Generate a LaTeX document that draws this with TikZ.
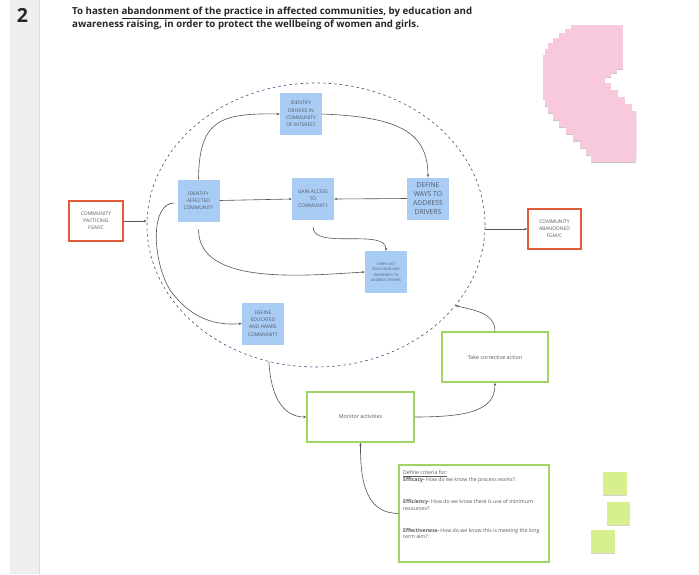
\documentclass[tikz,border=0pt]{standalone}
\usepackage{fontspec}
\setmainfont{Open Sans}
\usetikzlibrary{shapes.geometric,arrows.meta,calc,shadows}

\definecolor{stripgray}{HTML}{EFEFEF}
\definecolor{stripline}{HTML}{DCDCDC}
\definecolor{noteblue}{HTML}{A9CCF4}
\definecolor{notetext}{HTML}{4F5B6B}
\definecolor{framered}{HTML}{E05A3C}
\definecolor{framegreen}{HTML}{9FD462}
\definecolor{notepink}{HTML}{F8C8DC}
\definecolor{notelime}{HTML}{D8EF90}
\definecolor{wire}{HTML}{555555}
\definecolor{ringcol}{HTML}{4C4C80}
\definecolor{bodytext}{HTML}{5A5A5A}

\tikzset{
  bluenote/.style={fill=noteblue, draw=none, minimum width=42pt, minimum height=42pt,
    inner sep=1pt, align=center, text=notetext, font=\fontsize{4.9}{7.2}\selectfont,
    drop shadow={shadow xshift=0pt, shadow yshift=-1.6pt, shadow scale=0.94,
      fill=black, opacity=.28}},
  redframe/.style={draw=framered, line width=1.5pt, fill=white, minimum width=54pt,
    minimum height=40pt, align=center, text=bodytext, font=\fontsize{5}{7.2}\selectfont},
  greenframe/.style={draw=framegreen, line width=1.5pt, fill=white, align=center,
    text=bodytext, font=\fontsize{5.4}{6.5}\selectfont},
  wireline/.style={draw=wire, line width=0.6pt, -{Stealth[length=3pt,width=2.4pt]}},
  pinknote/.style={fill=notepink, draw=none,
    drop shadow={shadow xshift=0pt, shadow yshift=-1.2pt, fill=black, opacity=.22}},
  limenote/.style={fill=notelime, draw=none,
    drop shadow={shadow xshift=0pt, shadow yshift=-1.2pt, fill=black, opacity=.18}}
}

\begin{document}
\begin{tikzpicture}[x=1pt,y=-1pt]
  \useasboundingbox (0,0) rectangle (699,574);
  \fill[white] (0,0) rectangle (699,574);

  % section number strip
  \fill[stripgray] (10,0) rectangle (40,574);
  \draw[stripline, line width=0.8pt] (39.5,0) -- (39.5,574);
  \node[font=\bfseries\fontsize{19.5}{20}\selectfont, text=black!85] (num) at (22.5,15.5) {2};

  % heading
  \node[anchor=north west, inner sep=0pt, align=left, text=black!85,
        font=\bfseries\fontsize{9.7}{13}\selectfont] (heading) at (72,7)
    {To hasten \underline{abandonment of the practice in affected communities}, by education and\\
     awareness raising, in order to protect the wellbeing of women and girls.};

  % pink note stack
  \begin{scope}
    \clip (520,15) rectangle (636,170);
    \foreach \px/\py in {571/25,565/29,559/33,553/38,548/43,545/49,543/55,545/62,
                         548/69,553/76,559/83,566/90,573/97,580/104,586/111,591/118}
      \fill[pinknote] (\px,\py) rectangle ++(52,44);
  \end{scope}

  % lime notes
  \fill[limenote] (603,472) rectangle (627,495);
  \fill[limenote] (607,502) rectangle (630,525);
  \fill[limenote] (591,530) rectangle (615,553);

  % dashed boundary of the process
  \node[ellipse, draw=ringcol, line width=0.6pt, dash pattern=on 2.6pt off 3pt,
        minimum width=338pt, minimum height=284pt, inner sep=0pt] (ring) at (316,225) {};

  % process notes
  \node[bluenote] (drivers)  at (301,114) {IDENTIFY\\DRIVERS IN\\COMMUNITY\\OF INTEREST};
  \node[bluenote] (affected) at (198.5,200.5) {IDENTIFY\\AFFECTED\\COMMUNITY};
  \node[bluenote] (gain)     at (313,199) {GAIN ACCESS\\TO\\COMMUNITY};
  \node[bluenote, font=\fontsize{6.8}{9}\selectfont] (ways) at (428,198.5) {DEFINE\\WAYS TO\\ADDRESS\\DRIVERS};
  \node[bluenote, font=\fontsize{3.5}{5.5}\selectfont] (carry) at (386,272)
    {CARRY OUT\\EDUCATION AND\\AWARENESS TO\\ADDRESS DRIVERS};
  \node[bluenote] (educated) at (263,323.5) {DEFINE\\EDUCATED\\AND AWARE\\COMMUNITY};

  % start and end states
  \node[redframe] (practicing) at (96,221) {COMMUNITY\\PACTICING\\FGM/C};
  \node[redframe, minimum width=53pt] (abandoned) at (554.5,229) {COMMUNITY\\ABANDONED\\FGM/C};

  % monitoring loop
  \node[greenframe, minimum width=106pt, minimum height=50pt] (corrective) at (495,357) {Take corrective action};
  \node[greenframe, minimum width=107pt, minimum height=50pt] (monitor) at (360.5,417) {Monitor activities};
  \node[greenframe, minimum width=150pt, minimum height=97pt] (criteria) at (474,513.5) {};
  \node[anchor=north west, inner sep=0pt, align=left, text=bodytext,
        font=\fontsize{5.2}{6.4}\selectfont] (criteriatext) at (403,470.5)
    {\underline{Define criteria for:}\\
     \textbf{Efficacy-} How do we know the process works?:\\[16.5pt]
     \textbf{Efficiency-} How do we know there is use of minimum\\
     resources?:\\[15.5pt]
     \textbf{Effectiveness-} How do we know this is meeting the long\\
     term aim?:};

  % connectors
  \draw[wireline] (practicing.east) -- (practicing.east -| ring.west);
  \draw[wireline] (abandoned.west -| ring.east) -- (abandoned.west);
  \draw[wireline] (affected.north) .. controls (199,120) and (220,113) .. (drivers.west);
  \draw[wireline] (drivers.east) .. controls (395,117) and (428,130) .. (ways.north);
  \draw[wireline] (affected.east) -- (gain.west);
  \draw[wireline] (ways.west) -- (gain.east);
  \draw[wireline] ($(gain.south)+(0,7)$) .. controls (313,250) and (386,228) .. (carry.north);
  \draw[wireline] ($(affected.south)+(0,8)$) .. controls (199,285) and (300,276) .. (carry.west);
  \draw[wireline] ($(affected.west)+(-3,2.5)$) .. controls (150,203) and (152,260) .. (170,290)
                  .. controls (190,318) and (215,326) .. (educated.west);
  \draw[wireline] (ring.251) .. controls (271,400) and (285,417) .. (monitor.west);
  \draw[wireline] (monitor.east) .. controls (470,417) and (495,410) .. (corrective.south);
  \draw[wireline] (corrective.north) .. controls (495,312) and (472,310) .. (ring.330);
  \draw[wireline] (criteria.west) .. controls (370,513) and (360,490) .. (monitor.south);
\end{tikzpicture}
\end{document}
